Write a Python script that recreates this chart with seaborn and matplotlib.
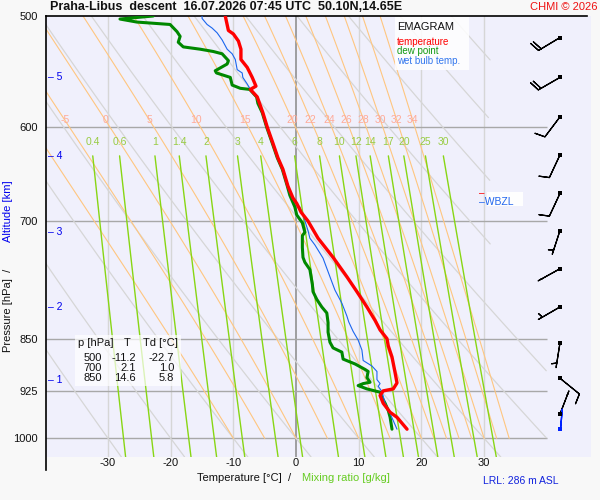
import numpy as np
import matplotlib
matplotlib.use("Agg")
import matplotlib.pyplot as plt
import matplotlib.transforms as mtrans
from matplotlib.patches import Rectangle
import seaborn as sns

# sounding (hPa, deg C)
temp_p = [500, 512, 515, 521, 528, 537, 544, 553, 561, 564, 571, 586, 600, 616, 631,
          643, 661, 674, 680, 690, 700, 720, 743, 767, 786, 806, 824, 837, 849, 859,
          875, 898, 913, 922, 925, 932, 944, 958, 966, 985]
temp_c = [-11.3, -10.8, -10.0, -9.2, -8.8, -8.8, -7.8, -7.0, -6.4, -7.3, -6.2, -5.3, -4.6, -3.7, -2.9,
          -2.1, -1.3, -0.5, 0.1, 0.8, 1.9, 3.5, 5.9, 8.1, 9.7, 11.3, 12.6, 13.4, 14.5, 14.7,
          15.3, 15.8, 16.1, 15.5, 13.9, 13.4, 13.9, 15.0, 16.1, 17.7]

dew_p = [500, 502.5, 505, 507, 513, 517, 522, 526, 528, 530, 532, 538, 541, 547, 549,
         553, 560, 563, 564, 571, 577, 586, 600, 616, 631, 643, 661, 671, 684, 693,
         702, 713, 717, 731, 743, 749, 758, 777, 786, 796, 806, 814, 827, 840, 854,
         862, 868, 878, 885, 893, 896, 905, 912, 914, 917, 922, 927, 935, 944, 955,
         966, 985]
dew_c = [-22.8, -28.1, -25.4, -20.1, -19.0, -18.5, -18.8, -18.0, -15.3, -13.2, -11.8, -10.8, -11.0, -12.9, -12.7,
         -10.5, -10.2, -8.9, -7.4, -6.3, -6.1, -5.4, -4.7, -3.8, -3.0, -2.2, -1.4, -1.0, -0.2, 0.1,
         1.0, 1.4, 1.0, 1.0, 1.1, 1.4, 2.2, 2.6, 2.7, 3.3, 4.1, 4.9, 5.1, 5.1, 5.4,
         5.9, 7.3, 7.5, 9.4, 11.0, 11.5, 11.3, 11.8, 10.7, 9.9, 11.3, 13.4, 13.7, 14.2, 14.7,
         15.0, 15.3]

wet_p = [500, 502, 507, 510, 514, 520, 528, 532, 537, 546, 549, 553, 559, 564, 571,
         586, 600, 616, 631, 643, 661, 674, 679, 684, 693, 711, 720, 728, 744, 767,
         784, 801, 818, 826, 839, 851, 865, 880, 888, 896, 908, 914, 918, 926, 944,
         960, 985]
wet_c = [-15.0, -15.0, -14.2, -13.4, -12.6, -11.8, -11.0, -10.2, -9.7, -9.4, -8.6, -8.5, -7.8, -7.3, -6.3,
         -5.4, -4.7, -3.8, -3.0, -2.2, -1.4, -0.6, -0.2, 0.6, 1.1, 1.9, 2.2, 3.0, 4.3, 5.4,
         6.2, 7.3, 8.1, 8.4, 9.1, 9.9, 10.5, 10.7, 12.1, 12.9, 12.9, 13.4, 13.1, 13.7, 14.2,
         15.0, 16.1]

# winds: level (hPa), direction (deg, from), speed (kt)
wind_p = [518, 553, 590, 628, 669, 711, 757, 806, 855, 906, 961]
wind_dir = [239, 240, 217, 205, 205, 198, 241, 240, 189, 129, 21]
wind_kt = [20, 20, 10, 10, 10, 5, 0, 5, 5, 10, 0]
sfc_p = [984]
sfc_dir = [5]

pressure_ticks = [500, 600, 700, 850, 925, 1000]
temp_ticks = [-30, -20, -10, 0, 10, 20, 30]
alt_km = [1, 2, 3, 4, 5]
alt_p = [909, 806, 713, 629, 553]
theta_w = [-10, -5, 0, 5, 10, 15, 20, 22, 24, 26, 28, 30, 32, 34]
theta_d = list(range(-30, 100, 10))
mix_ratio = [0.4, 0.6, 1, 1.4, 2, 3, 4, 6, 8, 10, 12, 14, 17, 20, 25, 30]
table_rows = [("500", "-11.2", "-22.7"), ("700", "2.1", "1.0"), ("850", "14.6", "5.8")]

Rd, cp, Lv, eps = 287.04, 1005.7, 2.501e6, 0.622


def esat(tc):
    return 6.112 * np.exp(17.67 * tc / (tc + 243.5))


def moist_adiabat(tw, plev):
    def f(p, T):
        es = esat(T - 273.15)
        rs = eps * es / (p - es)
        return (Rd * T + Lv * rs) / (p * (cp + Lv ** 2 * rs * eps / (Rd * T ** 2)))
    T = tw + 273.15
    out = [T]
    for p0, p1 in zip(plev[:-1], plev[1:]):
        dp = p1 - p0
        k1 = f(p0, T)
        k2 = f(p0 + dp / 2, T + dp / 2 * k1)
        k3 = f(p0 + dp / 2, T + dp / 2 * k2)
        k4 = f(p1, T + dp * k3)
        T = T + dp / 6 * (k1 + 2 * k2 + 2 * k3 + k4)
        out.append(T)
    return np.array(out) - 273.15


def mixing_temp(w, p):
    e = w * p / (622.0 + w)
    a = np.log(e / 6.112)
    return 243.5 * a / (17.67 - a)


sns.set_theme(style="white")
plt.rcParams['font.family'] = ['Liberation Sans', 'DejaVu Sans']

W, H = 600, 500
fig = plt.figure(figsize=(6, 5), dpi=100, facecolor='#f8f8f8')
ax = fig.add_axes([46 / W, 1 - 457 / H, (591 - 46) / W, (457 - 16) / H])
ax.set_facecolor('#f0f0fc')
ax.set_yscale('log')
ax.set_xlim(-39.9, 47.05)
ax.set_ylim(1031, 500)

# isotherms and isobars
for t in temp_ticks:
    ax.axvline(t, color='#909090' if t == 0 else '#d6d6d6', lw=1.2 if t == 0 else 1, zorder=1)
ax.hlines(pressure_ticks[1:], -40, 40, color='#a8a8a8', lw=1, zorder=1.5)

# dry adiabats
pp = np.linspace(500, 1031, 200)
for th in theta_d:
    t = (th + 273.15) * (pp / 1000.0) ** 0.2857 - 273.15
    tmax = 40 if th <= 50 else 31
    t = np.where(t > tmax, np.nan, t)
    ax.plot(t, pp, color='#d6d6d6', lw=0.9, zorder=2)

# saturated adiabats
pm = np.linspace(1000, 500, 101)
for tw in theta_w:
    t = moist_adiabat(tw, pm)
    ax.plot(t, pm, color='#ffc680', lw=0.8, zorder=2.2)
    if tw >= -5:
        tl = np.interp(593, pm[::-1], t[::-1])
        ax.text(tl, 593, str(tw), color='#ffaa98', fontsize=7.5, ha='center', va='center', zorder=3)

# mixing ratio lines
pw = np.linspace(629, 1031, 60)
for w in mix_ratio:
    ax.plot(mixing_temp(w, pw), pw, color='#88d614', lw=1.0, zorder=2.4)
    ax.text(mixing_temp(w, 629), 615, f"{w:g}", color='#99cc44', fontsize=7.5, ha='center', va='center', zorder=3)

# soundings
sns.lineplot(x=dew_c, y=dew_p, sort=False, estimator=None, ax=ax, color='#008800', lw=2.2, zorder=6)
sns.lineplot(x=wet_c, y=wet_p, sort=False, estimator=None, ax=ax, color='#1a66ee', lw=0.8, zorder=6.5)
sns.lineplot(x=temp_c, y=temp_p, sort=False, estimator=None, ax=ax, color='#ff0000', lw=2.4, zorder=7)

# wind barbs
bx = 42.1
wd = np.deg2rad(np.array(wind_dir))
spd = np.array(wind_kt, dtype=float)
has = spd > 0
u = -np.where(has, spd, 5) * np.sin(wd)
v = -np.where(has, spd, 5) * np.cos(wd)
wp = np.array(wind_p)
ax.barbs(np.full(has.sum(), bx), wp[has], u[has], v[has], length=6, lw=0.9, color='black', zorder=8)
ax.barbs(np.full((~has).sum(), bx), wp[~has], u[~has], v[~has], length=6, lw=0.9, color='black',
         sizes=dict(height=0.0), zorder=8)
sd = np.deg2rad(np.array(sfc_dir))
ax.barbs([bx], sfc_p, -5 * np.sin(sd), -5 * np.cos(sd), length=5.4, lw=1, color='#0022ff',
         sizes=dict(height=0.0), zorder=8)
ax.scatter(np.full(len(wind_p), bx), wind_p, marker='s', s=7, color='black', zorder=9, linewidths=0)
ax.scatter([bx], sfc_p, marker='s', s=7, color='#0022ff', zorder=9, linewidths=0)

# axes styling
ax.set_yticks(pressure_ticks)
ax.set_yticklabels([str(p) for p in pressure_ticks])
ax.yaxis.set_minor_locator(matplotlib.ticker.NullLocator())
ax.set_xticks(temp_ticks)
ax.set_xticklabels([str(t) for t in temp_ticks])
ax.tick_params(axis='y', length=0, labelsize=8, pad=6, colors='#111111')
ax.tick_params(axis='x', length=0, labelsize=8, pad=1, colors='#111111')
ax.set_xlabel('')
ax.set_ylabel('')
for s in ['right', 'bottom']:
    ax.spines[s].set_visible(False)
ax.spines['left'].set_color('black')
ax.spines['top'].set_color('black')
ax.spines['left'].set_linewidth(1.2)
ax.spines['top'].set_linewidth(1.2)
ax.spines['left'].set_bounds(500, 1054)
ax.spines['top'].set_bounds(-39.9, 46.4)
ax.grid(False)

# altitude ticks
tr = mtrans.blended_transform_factory(ax.transAxes, ax.transData)
for km, p in zip(alt_km, alt_p):
    ax.text(0.004, p, f"– {km}", transform=tr, color='#0000ee', fontsize=7.5, ha='left', va='center', zorder=9)


def fx(px):
    return px / W


def fy(py):
    return 1 - py / H


# titles and axis labels
fig.text(fx(50), fy(7), "Praha-Libus  descent  16.07.2026 07:45 UTC  50.10N,14.65E",
         fontsize=9, fontweight='bold', ha='left', va='center', color='#111111')
fig.text(fx(597), fy(7), "CHMI © 2026", fontsize=8, color='#ee1111', ha='right', va='center')
fig.text(fx(197), fy(478), "Temperature [°C]  /", fontsize=8, ha='left', va='center', color='#111111')
fig.text(fx(302), fy(478), "Mixing ratio [g/kg]", fontsize=8, ha='left', va='center', color='#66cc22')
fig.text(fx(8), fy(352), "Pressure [hPa]  /", fontsize=8, rotation=90, ha='center', va='bottom', color='#111111')
fig.text(fx(8), fy(242), "Altitude [km]", fontsize=8, rotation=90, ha='center', va='bottom', color='#0000ee')
fig.text(fx(483), fy(481), "LRL: 286 m ASL", fontsize=7.5, ha='left', va='center', color='#1122dd')

# legend box
fig.add_artist(Rectangle((fx(395), fy(70)), 74 / W, 53 / H, transform=fig.transFigure,
                         facecolor='white', alpha=0.85, edgecolor='none', zorder=10))
fig.text(fx(397), fy(27), "EMAGRAM", fontsize=8, ha='left', va='center', color='#111111', zorder=11)
fig.text(fx(397), fy(42), "temperature", fontsize=7, ha='left', va='center', color='#ff0000', zorder=11)
fig.text(fx(397), fy(51.5), "dew point", fontsize=7, ha='left', va='center', color='#119911', zorder=11)
fig.text(fx(397), fy(61), "wet bulb temp.", fontsize=7, ha='left', va='center', color='#3377ee', zorder=11)

# LCL / WBZL marks
fig.text(fx(479), fy(193), "–", fontsize=7, ha='left', va='center', color='#ff0000', zorder=10)
fig.add_artist(Rectangle((fx(487), fy(206)), 36 / W, 14 / H, transform=fig.transFigure,
                         facecolor='white', alpha=0.95, edgecolor='none', zorder=11))
fig.text(fx(479), fy(202), "–WBZL", fontsize=7.5, ha='left', va='center', color='#2266ee', zorder=12)

# table box
fig.add_artist(Rectangle((fx(75), fy(386)), 106 / W, 51 / H, transform=fig.transFigure,
                         facecolor='white', alpha=0.7, edgecolor='none', zorder=10))
fig.text(fx(78), fy(343), "p [hPa]", fontsize=8, ha='left', va='center', color='#111111', zorder=11)
fig.text(fx(127), fy(343), "T", fontsize=8, ha='center', va='center', color='#111111', zorder=11)
fig.text(fx(143), fy(343), "Td [°C]", fontsize=8, ha='left', va='center', color='#111111', zorder=11)
for i, (pr, tt, td) in enumerate(table_rows):
    yy = fy(358 + 10 * i)
    fig.text(fx(102), yy, pr, fontsize=8, ha='right', va='center', color='#111111', zorder=11)
    fig.text(fx(136), yy, tt, fontsize=8, ha='right', va='center', color='#111111', zorder=11)
    fig.text(fx(174), yy, td, fontsize=8, ha='right', va='center', color='#111111', zorder=11)

fig.savefig('out.png', dpi=100, facecolor=fig.get_facecolor())
